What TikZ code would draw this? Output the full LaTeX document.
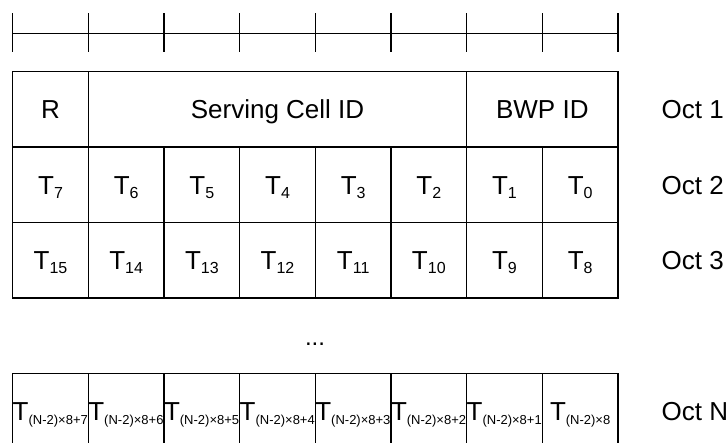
\documentclass[tikz,border=0pt]{standalone}
\usepackage{fontspec}
\setmainfont{Liberation Sans}
\newcommand\sT[1]{T\raisebox{-4.5pt}{\fontsize{16}{16}\selectfont #1}}
\newcommand\sTs[1]{T\raisebox{-4pt}{\fontsize{13}{13}\selectfont #1}}
\begin{document}
\begin{tikzpicture}[x=1pt,y=-1pt,
  cell/.style={draw, line width=1.5pt, minimum width=75.66pt, minimum height=75.4pt,
    inner sep=0pt, text height=18.6pt, text depth=0pt, font=\fontsize{26}{30}\selectfont},
  octlabel/.style={anchor=west, inner sep=0pt, text height=18.6pt, text depth=0pt,
    font=\fontsize{26}{30}\selectfont},
  ruler/.style={line width=1.5pt}]
\useasboundingbox (0,0) rectangle (728,443);
% ruler
\coordinate (rl) at (12.7,33.3);
\coordinate (rr) at (617.98,33.3);
\draw[ruler] (rl) -- (rr);
\foreach \i in {0,...,8} {
  \draw[ruler] (12.7+75.66*\i,13.3) -- (12.7+75.66*\i,52.3);
}
% row 1
\node[cell] (r1r) at (50.53,109.4) {R};
\node[cell, minimum width=378.3pt] (r1s) at (277.51,109.4) {Serving Cell ID};
\node[cell, minimum width=151.32pt] (r1b) at (542.32,109.4) {BWP ID};
% row 2
\foreach \i/\t in {0/7,1/6,2/5,3/4,4/3,5/2,6/1,7/0} {
  \node[cell] (r2c\i) at (50.53+75.66*\i,184.8) {\sT{\t}};
}
% row 3
\foreach \i/\t in {0/15,1/14,2/13,3/12,4/11,5/10,6/9,7/8} {
  \node[cell] (r3c\i) at (50.53+75.66*\i,260.2) {\sT{\t}};
}
% dots
\node[anchor=base, inner sep=0pt, font=\fontsize{24}{28}\selectfont] (dots) at (315,345) {...};
% last row
\foreach \i/\t in {0/7,1/6,2/5,3/4,4/3,5/2,6/1} {
  \node[cell] (rNc\i) at (50.53+75.66*\i,411.0) {\makebox[75.66pt][l]{\sTs{(N-2)×8+\t}}};
}
\node[cell] (rNc7) at (580.15,411.0) {\sTs{(N-2)×8}};
% octet labels
\node[octlabel] (o1) at (661.5,109.4) {Oct 1};
\node[octlabel] (o2) at (661.5,184.8) {Oct 2};
\node[octlabel] (o3) at (661.5,260.2) {Oct 3};
\node[octlabel] (oN) at (661.5,411.0) {Oct N};
\end{tikzpicture}
\end{document}
